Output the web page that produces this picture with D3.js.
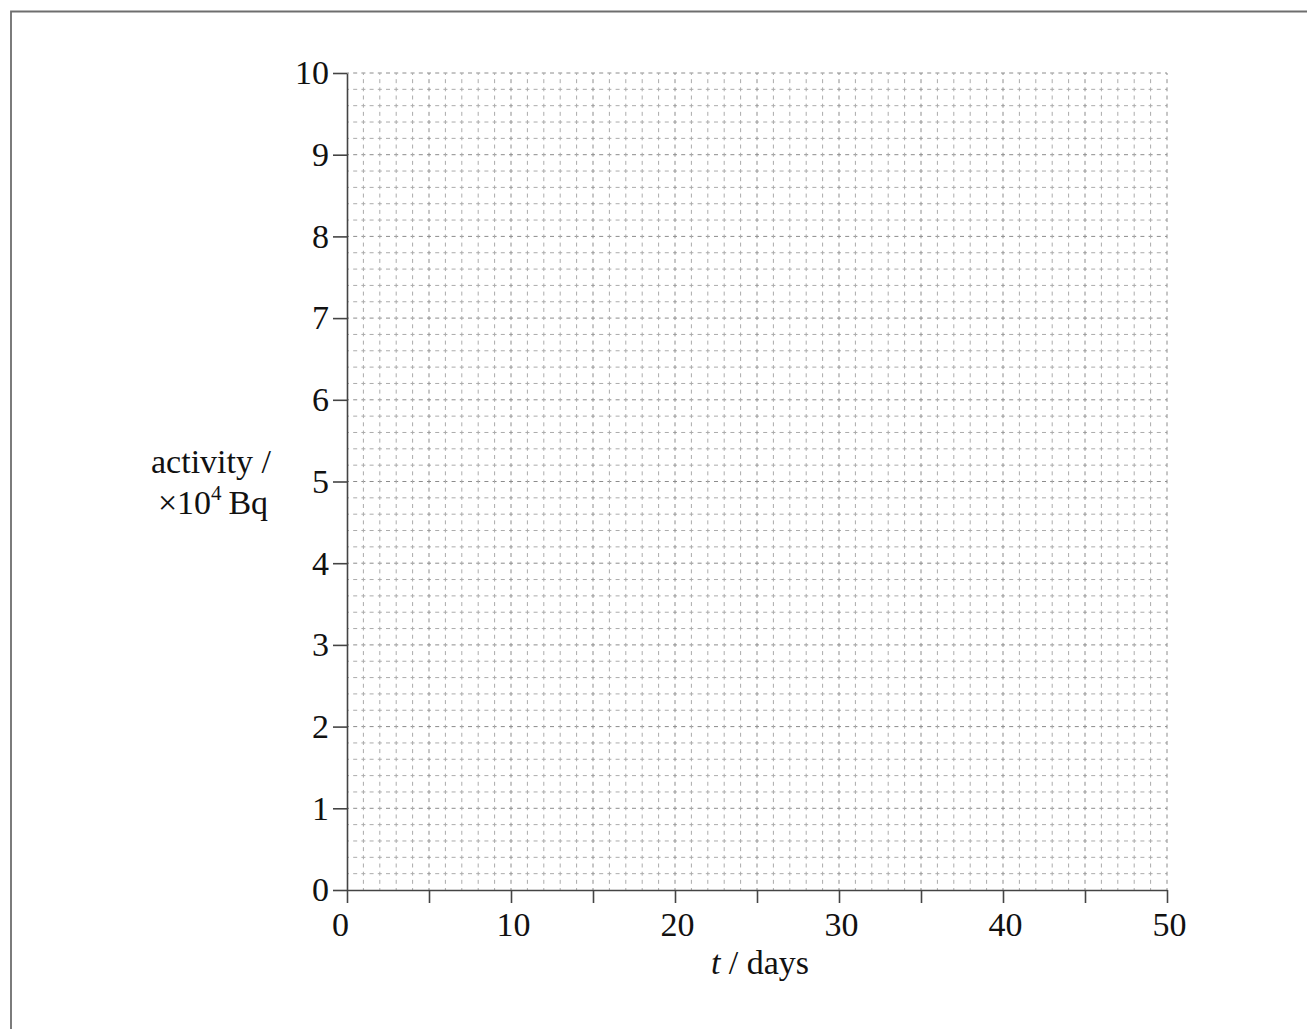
<!DOCTYPE html>
<html lang="en">
<head>
<meta charset="utf-8" />
<title>Activity vs time grid</title>
<style>
    body { margin: 0; background: #fff; }
    .axis text { font-family: "Liberation Serif", "Times New Roman", serif; font-size: 34px; fill: #111; }
    .axis path, .axis line { stroke: #444; stroke-width: 1.6; fill: none; }
    .label { font-family: "Liberation Serif", "Times New Roman", serif; font-size: 34px; fill: #111; }
</style>
</head>
<body>
<div id="graph"></div>
<script src="https://d3js.org/d3.v7.min.js"></script>
<script>
    // x axis: days
    var xDomain = [0, 50];
    var xTickValues = [0, 5, 10, 15, 20, 25, 30, 35, 40, 45, 50];
    var xTickLabels = ["0", "", "10", "", "20", "", "30", "", "40", "", "50"];
    var xMinorStep = 1;

    // y axis: activity / x10^4 Bq
    var yDomain = [0, 10];
    var yTickValues = [0, 1, 2, 3, 4, 5, 6, 7, 8, 9, 10];
    var yTickLabels = ["0", "1", "2", "3", "4", "5", "6", "7", "8", "9", "10"];
    var yMinorStep = 0.2;

    var W = 1307, H = 1029;
    var margin = { top: 73, right: 140, bottom: 139, left: 347 },
        width = W - margin.left - margin.right,
        height = H - margin.top - margin.bottom;

    var x = d3.scaleLinear().domain(xDomain).range([0, width]);
    var y = d3.scaleLinear().domain(yDomain).range([height, 0]);

    var root = d3.select("#graph").append("svg")
        .attr("width", W)
        .attr("height", H);

    // page frame (top and left edge)
    root.append("path")
        .attr("d", "M11,1029 L11,11.5 L1307,11.5")
        .attr("fill", "none")
        .attr("stroke", "#6e6e6e")
        .attr("stroke-width", 1.8);

    var svg = root.append("g")
        .attr("transform", "translate(" + margin.left + "," + margin.top + ")");

    // grid
    var xMinor = d3.range(xDomain[0] + xMinorStep, xDomain[1] + 0.001, xMinorStep);
    var yMinor = d3.range(yDomain[0] + yMinorStep, yDomain[1] + 0.001, yMinorStep);
    var xCell = x(xMinorStep) - x(0);
    var yCell = y(0) - y(yMinorStep);

    function isMajor(v, step) {
        var r = v / step;
        return Math.abs(r - Math.round(r)) < 1e-6;
    }

    var grid = svg.append("g").attr("class", "grid");

    grid.selectAll(".hline")
        .data(yMinor)
        .enter().append("line")
        .attr("class", "hline")
        .attr("x1", 0)
        .attr("x2", width)
        .attr("y1", function (d) { return y(d); })
        .attr("y2", function (d) { return y(d); })
        .attr("stroke", function (d) { return isMajor(d, 1) ? "#8c8c8c" : "#ababab"; })
        .attr("stroke-width", 1)
        .attr("stroke-dasharray", "4 " + (xCell / 2 - 4))
        .attr("stroke-dashoffset", 2);

    grid.selectAll(".vline")
        .data(xMinor)
        .enter().append("line")
        .attr("class", "vline")
        .attr("y1", height)
        .attr("y2", 0)
        .attr("x1", function (d) { return x(d); })
        .attr("x2", function (d) { return x(d); })
        .attr("stroke", function (d) { return isMajor(d, 5) ? "#8c8c8c" : "#ababab"; })
        .attr("stroke-width", 1)
        .attr("stroke-dasharray", "4 " + (yCell / 2 - 4))
        .attr("stroke-dashoffset", 2);

    // axes
    var xAxis = d3.axisBottom(x)
        .tickValues(xTickValues)
        .tickFormat(function (d, i) { return xTickLabels[i]; })
        .tickSizeInner(13)
        .tickSizeOuter(0)
        .tickPadding(9);

    var yAxis = d3.axisLeft(y)
        .tickValues(yTickValues)
        .tickFormat(function (d, i) { return yTickLabels[i]; })
        .tickSizeInner(14)
        .tickSizeOuter(0)
        .tickPadding(4);

    var gx = svg.append("g")
        .attr("class", "x axis")
        .attr("transform", "translate(0," + height + ")")
        .call(xAxis);
    gx.selectAll(".tick text")
        .attr("dx", function (d) { return d === 0 ? "-7" : "2"; });

    svg.append("g")
        .attr("class", "y axis")
        .call(yAxis);

    // axis titles
    var yl = root.append("text")
        .attr("class", "label")
        .attr("text-anchor", "middle")
        .attr("x", 211)
        .attr("y", 473);
    yl.text("activity /");

    var yl2 = root.append("text")
        .attr("class", "label")
        .attr("text-anchor", "middle")
        .attr("x", 213)
        .attr("y", 514);
    yl2.append("tspan").text("\u00d710");
    yl2.append("tspan").attr("font-size", "21px").attr("dy", "-14").text("4");
    yl2.append("tspan").attr("dy", "14").text("\u2009Bq");

    var xl = root.append("text")
        .attr("class", "label")
        .attr("text-anchor", "middle")
        .attr("x", margin.left + width / 2 + 3)
        .attr("y", 974);
    xl.append("tspan").attr("font-style", "italic").text("t");
    xl.append("tspan").text(" / days");
</script>
</body>
</html>
